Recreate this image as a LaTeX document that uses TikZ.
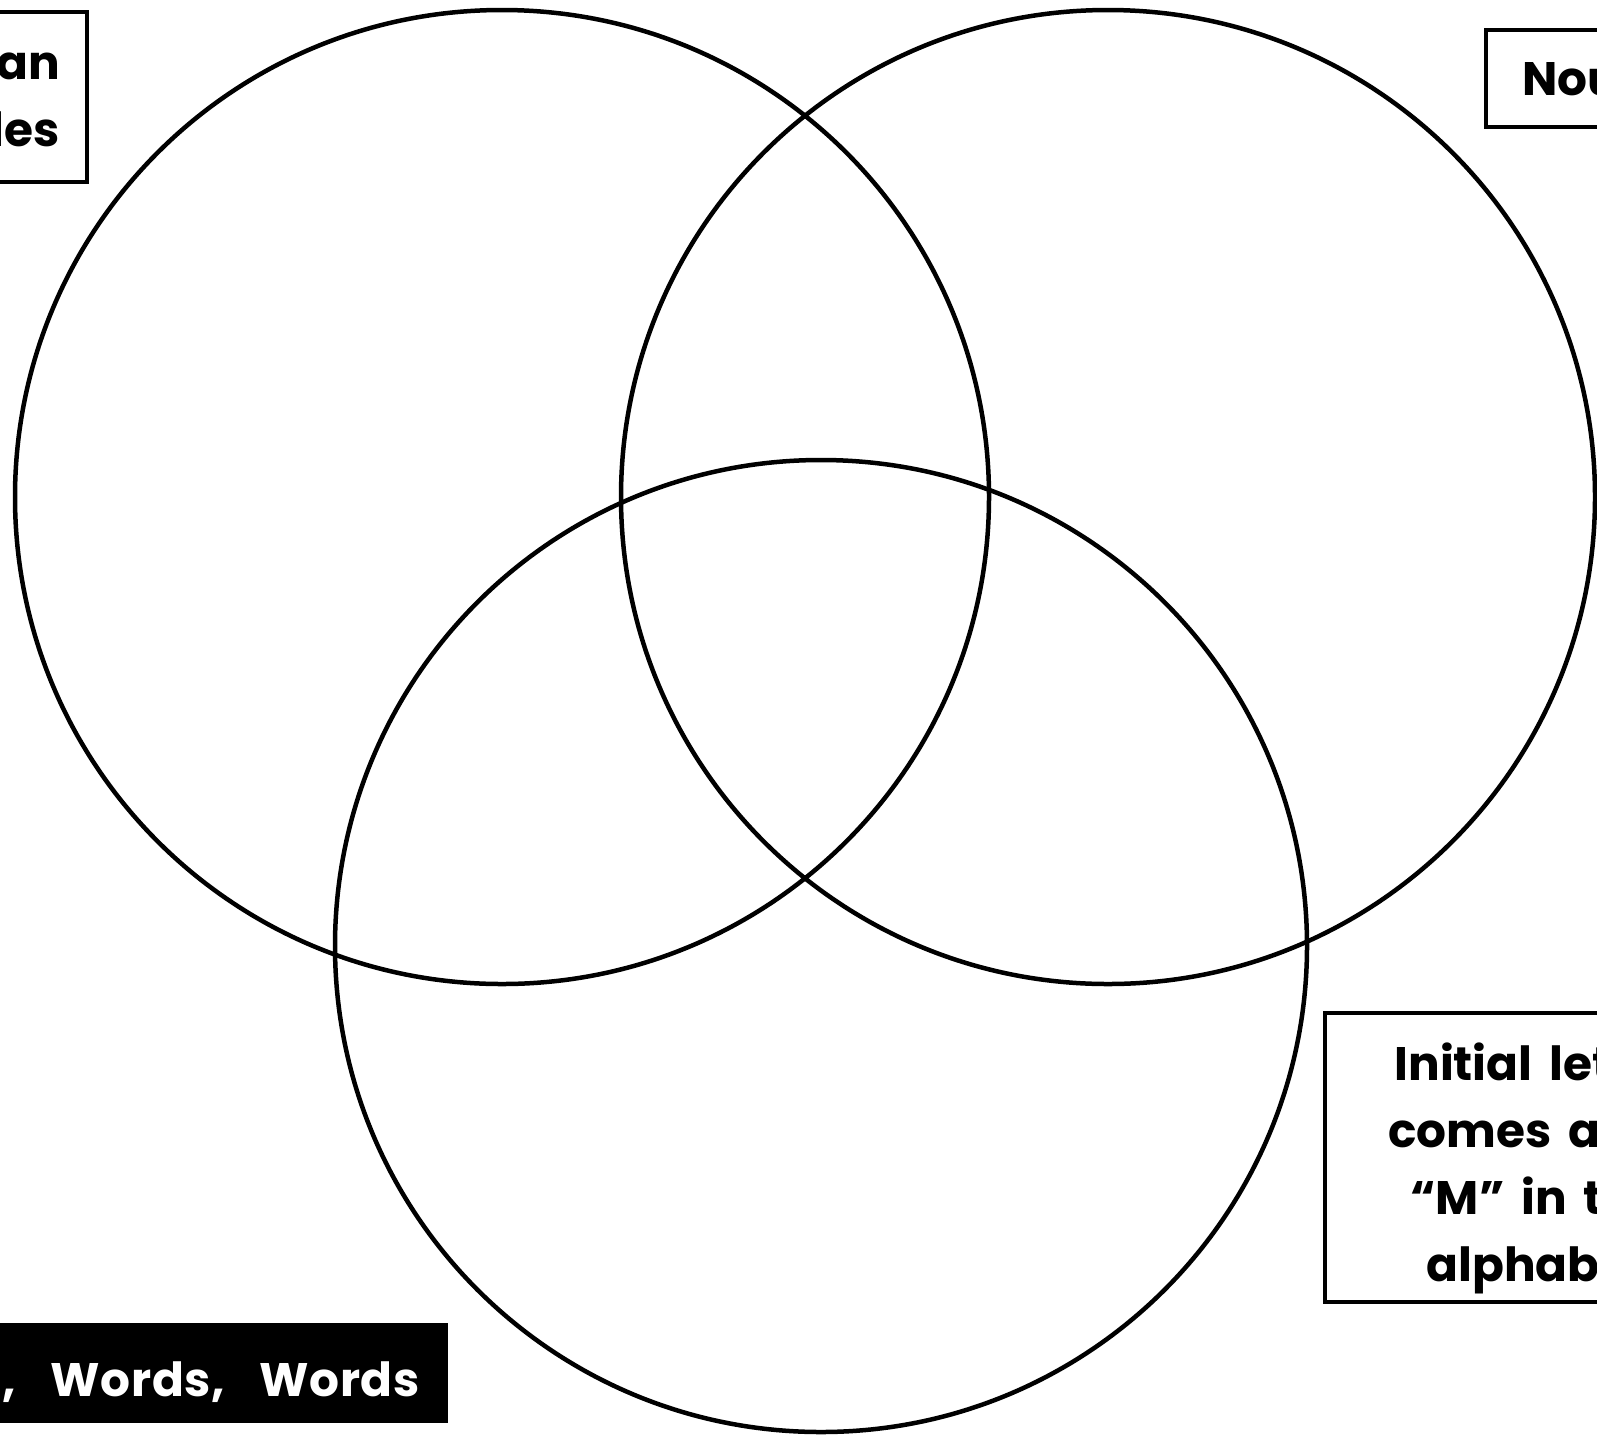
\documentclass[tikz,border=0pt]{standalone}
\usepackage{fontspec}
\setmainfont{Poppins}[WordSpace=1.7]
\newfontfamily\wideface{Poppins}[WordSpace=3.2,LetterSpace=1.5]
\begin{document}
\begin{tikzpicture}[x=1pt,y=-1pt,
  ring/.style={draw=black,line width=4.5pt},
  framebox/.style={draw=black,line width=4.5pt,inner sep=0pt},
  labeltext/.style={font=\fontsize{47}{67}\selectfont\bfseries,inner sep=0pt},
  darkbox/.style={fill=black,inner sep=0pt}]
\useasboundingbox (0,0) rectangle (1597,1436);
\begin{scope}
\clip (0,0) rectangle (1597,1436);
\draw[ring] (502,497) circle[radius=487];
\draw[ring] (1108,497) circle[radius=487];
\draw[ring] (821,946) circle[radius=486];
% top-left box
\node[framebox,minimum width=500pt,minimum height=170pt] (tlbox) at (-163,97) {};
\node[labeltext,align=right,anchor=east] (tltext) at (60,102) {Has more than\\two syllables};
% top-right box
\node[framebox,minimum width=300pt,minimum height=97pt] (trbox) at (1636,78.5) {};
\node[labeltext,anchor=west] (trtext) at (1522,79) {Noun};
% bottom-right box
\node[framebox,minimum width=424pt,minimum height=289pt] (brbox) at (1537,1157.5) {};
\node[labeltext,align=center] (brtext) at (1537,1168) {Initial letter\\comes after\\``M'' in the\\alphabet};
% bottom-left title bar
\node[darkbox,minimum width=600pt,minimum height=100pt] (blbox) at (148,1373) {};
\node[labeltext,text=white,anchor=east,font=\wideface\fontsize{47}{67}\selectfont\bfseries] (bltext) at (420,1382) {Words, Words, Words};
\end{scope}
\end{tikzpicture}
\end{document}
